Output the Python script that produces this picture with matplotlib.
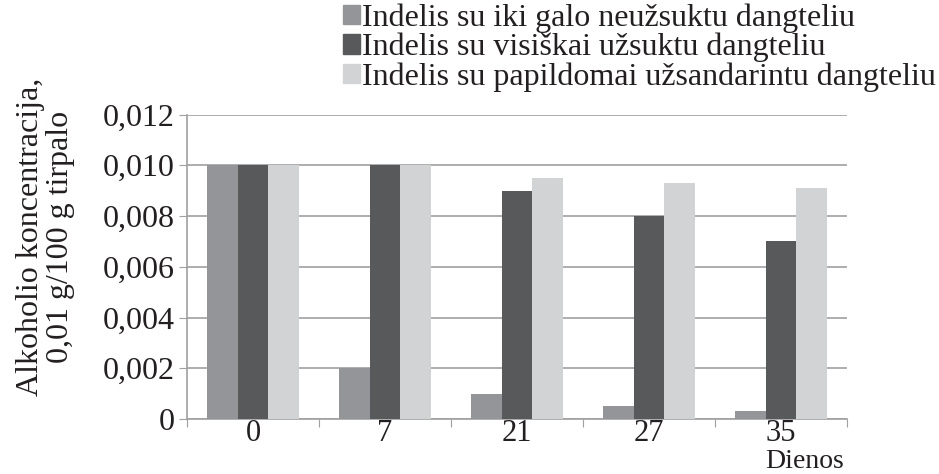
import matplotlib.pyplot as plt
import numpy as np
from matplotlib.patches import Patch

plt.rcParams['font.family'] = ['Liberation Serif', 'DejaVu Serif']

days = ['0', '7', '21', '27', '35']
half_open = [0.010, 0.002, 0.001, 0.0005, 0.0003]
fully_closed = [0.010, 0.010, 0.009, 0.008, 0.007]
extra_sealed = [0.010, 0.010, 0.0095, 0.0093, 0.0091]
labels = ['Indelis su iki galo neužsuktu dangteliu',
          'Indelis su visiškai užsuktu dangteliu',
          'Indelis su papildomai užsandarintu dangteliu']
colors = ['#939598', '#58595b', '#d1d3d4']
txt = '#231f20'

fig = plt.figure(figsize=(9.39, 4.74), dpi=100)
ax = fig.add_axes([187/939, 1 - 419/474, 660/939, 304.5/474])

x = np.arange(len(days))
w = 0.23
for i, (vals, c) in enumerate(zip([half_open, fully_closed, extra_sealed], colors)):
    ax.bar(x + (i - 1) * w, vals, width=w, color=c, zorder=3)

ax.set_xlim(-0.5, len(days) - 0.5)
ax.set_ylim(0, 0.012)
ax.set_yticks(np.arange(0, 0.0121, 0.002))
ax.set_yticklabels(['0', '0,002', '0,004', '0,006', '0,008', '0,010', '0,012'])
ax.yaxis.grid(True, color='#a0a0a0', linewidth=1.2, zorder=0)

ax.set_xticks(np.arange(-0.5, len(days)), minor=False)
ax.set_xticklabels([])
ax.set_xticks(x, minor=True)
ax.set_xticklabels(days, minor=True)
ax.tick_params(axis='x', which='major', length=6, color='#a0a0a0', direction='out')
ax.tick_params(axis='x', which='minor', length=0, labelsize=22, pad=0, colors=txt)
ax.tick_params(axis='y', length=6, color='#a0a0a0', labelsize=23, colors=txt, pad=3)

for s in ['top', 'right']:
    ax.spines[s].set_visible(False)
for s in ['left', 'bottom']:
    ax.spines[s].set_color('#a0a0a0')
    ax.spines[s].set_linewidth(1.2)

fig.text(0.048, 0.5, 'Alkoholio koncentracija,\n0,01 g/100 g tirpalo', rotation=90,
         ha='center', va='center', fontsize=23, color=txt, linespacing=1.05)
fig.text(765/939, 0.0, 'Dienos', ha='left', va='bottom', fontsize=20, color=txt)

handles = [Patch(color=c) for c in colors]
fig.legend(handles, labels, loc='upper left', bbox_to_anchor=(330/939, 1.02),
           frameon=False, fontsize=23, handlelength=0.55, handleheight=0.55,
           handletextpad=0.05, labelspacing=0.0, borderaxespad=0, labelcolor=txt)

fig.savefig('out.png', dpi=100)
